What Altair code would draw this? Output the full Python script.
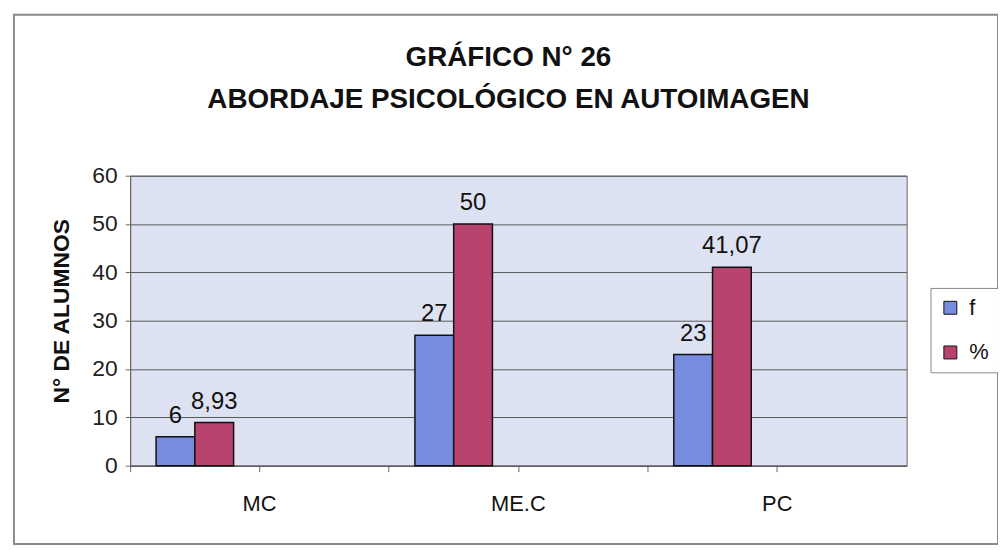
import altair as alt
import pandas as pd

# ---- data ----
categories = ["MC", "ME.C", "PC"]
x_domain = ["MC", "_s1", "ME.C", "_s2", "PC", "_s3"]   # Excel-style empty slots between groups
series = ["f", "%"]
f_values = [6, 27, 23]
pct_values = [8.93, 50, 41.07]
y_ticks = [0, 10, 20, 30, 40, 50, 60]
title_lines = ["GRÁFICO N° 26", "ABORDAJE PSICOLÓGICO EN AUTOIMAGEN"]
y_title = "N° DE ALUMNOS"

rows = []
for c, fv, pv in zip(categories, f_values, pct_values):
    rows.append({"cat": c, "serie": "f", "valor": fv})
    rows.append({"cat": c, "serie": "%", "valor": pv})
df = pd.DataFrame(rows)

FONT = "Liberation Sans"
W, H = 782, 292

x_enc = alt.X(
    "cat:N",
    scale=alt.Scale(domain=x_domain, paddingInner=0, paddingOuter=0),
    axis=alt.Axis(
        title=None,
        labelExpr="indexof(['MC','ME.C','PC'], datum.value) >= 0 ? datum.value : ''",
        bandPosition=0,
        labelOffset=W / 12,
        labelAngle=0,
        labelFontSize=22,
        labelColor="#111",
        labelPadding=22,
        tickSize=6,
        tickColor="#666",
        domainColor="#555",
        grid=False,
        labelOverlap=False,
    ),
)
xoff_enc = alt.XOffset(
    "serie:N",
    scale=alt.Scale(domain=series, paddingInner=0, paddingOuter=0.67),
)
y_enc = alt.Y(
    "valor:Q",
    scale=alt.Scale(domain=[0, 60], nice=False),
    axis=alt.Axis(
        values=y_ticks,
        title=y_title,
        titleFontSize=23,
        titleFontWeight="bold",
        titleColor="#111",
        titleX=-69,
        titleY=H / 2 - 10,
        titleAngle=270,
        titleAlign="center",
        titleBaseline="middle",
        labelFontSize=23,
        labelColor="#222",
        labelPadding=8,
        tickSize=5,
        tickColor="#666",
        domainColor="#666",
        grid=True,
        gridColor="#5a5a5a",
        gridWidth=1,
    ),
)

bars = alt.Chart(df).mark_bar(stroke="#111", strokeWidth=1.5).encode(
    x=x_enc,
    xOffset=xoff_enc,
    y=y_enc,
    color=alt.Color(
        "serie:N",
        scale=alt.Scale(domain=series, range=["#768ddf", "#b8436f"]),
        legend=alt.Legend(
            title=None,
            orient="none",
            legendX=806,
            legendY=113,
            strokeColor="#888",
            fillColor="white",
            padding=9,
            symbolType="square",
            symbolSize=169,
            symbolStrokeColor="#111",
            symbolStrokeWidth=1,
            labelFontSize=22,
            labelColor="#111",
            labelOffset=8,
            rowPadding=23,
        ),
    ),
)

labels = alt.Chart(df).transform_calculate(
    txt="replace(toString(datum.valor), '.', ',')"
).mark_text(
    baseline="alphabetic", align="center", dy=-14, fontSize=24, color="#111", font=FONT
).encode(
    x=alt.X("cat:N", scale=alt.Scale(domain=x_domain, paddingInner=0, paddingOuter=0)),
    xOffset=alt.XOffset("serie:N", scale=alt.Scale(domain=series, paddingInner=0, paddingOuter=0.67)),
    y=alt.Y("valor:Q"),
    text="txt:N",
)

frame = alt.Chart(pd.DataFrame({"k": [0]})).mark_rect(
    fill="transparent", stroke="#8a8a8a", strokeWidth=2
).encode(
    x=alt.value(-117), x2=alt.value(874), y=alt.value(-162), y2=alt.value(371)
)

chart = alt.layer(frame, bars, labels).properties(
    width=W,
    height=H,
    padding={"left": 123, "top": 167, "right": 92, "bottom": 80},
    autosize=alt.AutoSizeParams(type="none"),
    background="white",
    title=alt.TitleParams(
        text=title_lines,
        fontSize=28,
        fontWeight="bold",
        font=FONT,
        color="#111",
        anchor="middle",
        dx=-10,
        offset=-101,
        lineHeight=42,
    ),
).configure(font=FONT).configure_view(
    fill="#dde2f2", stroke="#666", strokeWidth=1
)

chart.save("out.html", embed_options={"renderer": "svg", "actions": False})
